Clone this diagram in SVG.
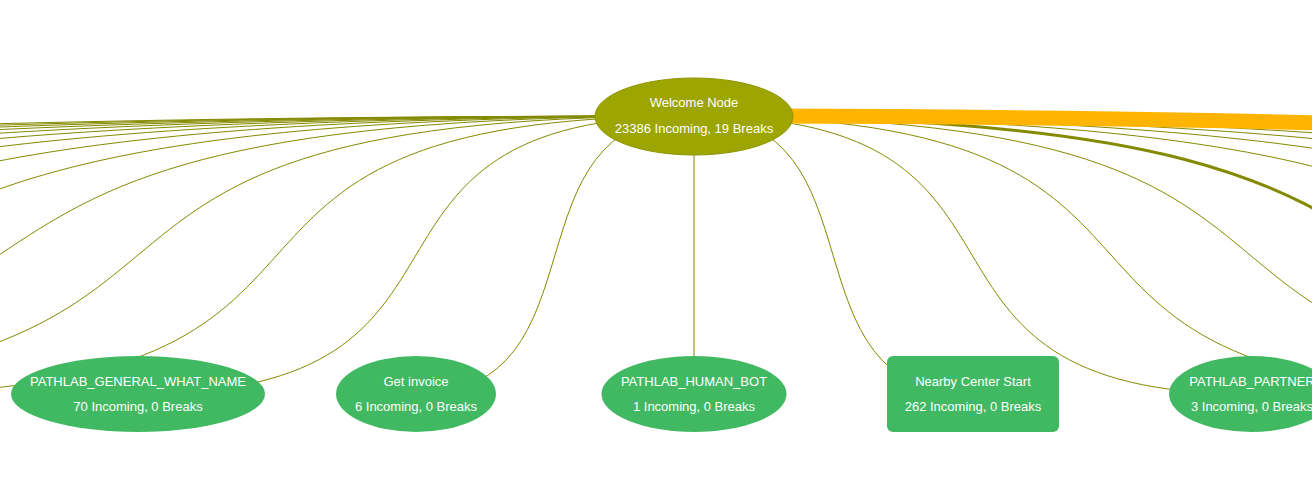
<svg xmlns="http://www.w3.org/2000/svg" width="1316" height="479" viewBox="0 0 1316 479">
  <style>
    .edge { fill: none; stroke: #848a00; stroke-width: 1; }
    .thick { stroke-width: 3; }
    .hot { fill: none; stroke: #ffb400; stroke-width: 15; }
    .green { fill: #41b962; }
    .root { fill: #9da500; stroke: #8e9500; stroke-width: 1; }
    text { font-family: "Liberation Sans", Arial, sans-serif; font-size: 13px; fill: #ffffff; text-anchor: middle; }
  </style>
  <defs>
    <clipPath id="canvas">
      <rect x="0" y="0" width="1312" height="479"/>
    </clipPath>
  </defs>
  <rect x="0" y="0" width="1316" height="479" fill="#ffffff"/>
  <g clip-path="url(#canvas)">
    <g id="connectors">
      <!-- left side -->
      <path class="edge" d="M694,116 C499.4,116 610.6,394 416,394"/>
      <path class="edge" d="M694,116 C304.8,116 527.2,394 138,394"/>
      <path class="edge" d="M694,116 C110.2,116 443.8,394 -140,394"/>
      <path class="edge" d="M694,116 C-84.4,116 360.4,394 -418,394"/>
      <path class="edge" d="M694,116 C-279,116 277,394 -696,394"/>
      <path class="edge" d="M694,116 C-473.6,116 193.6,394 -974,394"/>
      <path class="edge" d="M694,116 C-668.2,116 110.2,394 -1252,394"/>
      <path class="edge" d="M694,116 C-862.8,116 26.8,394 -1530,394"/>
      <path class="edge" d="M694,116 C-1057.4,116 -56.6,394 -1808,394"/>
      <path class="edge" d="M694,116 C-1252,116 -140,394 -2086,394"/>
      <path class="edge" d="M694,116 C-1446.6,116 -223.4,394 -2364,394"/>
      <path class="edge" d="M694,116 C-1641.2,116 -306.8,394 -2642,394"/>
      <path class="edge" d="M694,116 C-1835.8,116 -390.2,394 -2920,394"/>
      <path class="edge" d="M694,116 C-2030.4,116 -473.6,394 -3198,394"/>
      <!-- centre -->
      <path class="edge" d="M694,116 L694,394"/>
      <!-- right side -->
      <path class="edge" d="M694,116 C888.6,116 777.4,394 972,394"/>
      <path class="edge" d="M694,116 C1083.2,116 860.8,394 1250,394"/>
      <path class="edge" d="M694,116 C1277.8,116 944.2,394 1528,394"/>
      <path class="edge" d="M694,116 C1472.4,116 1027.6,394 1806,394"/>
      <path class="edge thick" d="M694,116 C1667,116 1111,394 2084,394"/>
      <path class="edge" d="M694,116 C1861.6,116 1194.4,394 2362,394"/>
      <path class="edge" d="M694,116 C2056.2,116 1277.8,394 2640,394"/>
      <path class="edge" d="M694,116 C2250.8,116 1361.2,394 2918,394"/>
      <path class="edge" d="M694,116 C2445.4,116 1444.6,394 3196,394"/>
      <path class="edge" d="M694,116 C2640,116 1528,394 3474,394"/>
      <path class="edge" d="M694,116 C2834.6,116 1611.4,394 3752,394"/>
      <path class="hot" d="M694,116 C3307.8,116 1814.2,394 4428,394"/>
    </g>
    <g id="welcome-node">
      <ellipse class="root" cx="694" cy="116.5" rx="99" ry="38.5"/>
      <text x="694" y="107">Welcome Node</text>
      <text x="694" y="133">23386 Incoming, 19 Breaks</text>
    </g>
    <g id="node-general-what-name">
      <ellipse class="green" cx="138" cy="394" rx="127" ry="38"/>
      <text x="138" y="386">PATHLAB_GENERAL_WHAT_NAME</text>
      <text x="138" y="411">70 Incoming, 0 Breaks</text>
    </g>
    <g id="node-get-invoice">
      <ellipse class="green" cx="416" cy="394" rx="80" ry="38"/>
      <text x="416" y="386">Get invoice</text>
      <text x="416" y="411">6 Incoming, 0 Breaks</text>
    </g>
    <g id="node-human-bot">
      <ellipse class="green" cx="694" cy="394" rx="92.5" ry="38"/>
      <text x="694" y="386">PATHLAB_HUMAN_BOT</text>
      <text x="694" y="411">1 Incoming, 0 Breaks</text>
    </g>
    <g id="node-nearby-center-start">
      <rect class="green" x="887" y="356" width="172" height="76" rx="6" ry="6"/>
      <text x="973" y="386">Nearby Center Start</text>
      <text x="973" y="411">262 Incoming, 0 Breaks</text>
    </g>
    <g id="node-partner">
      <ellipse class="green" cx="1251" cy="394" rx="82" ry="38"/>
      <text x="1252" y="386">PATHLAB_PARTNER</text>
      <text x="1252" y="411">3 Incoming, 0 Breaks</text>
    </g>
  </g>
</svg>
